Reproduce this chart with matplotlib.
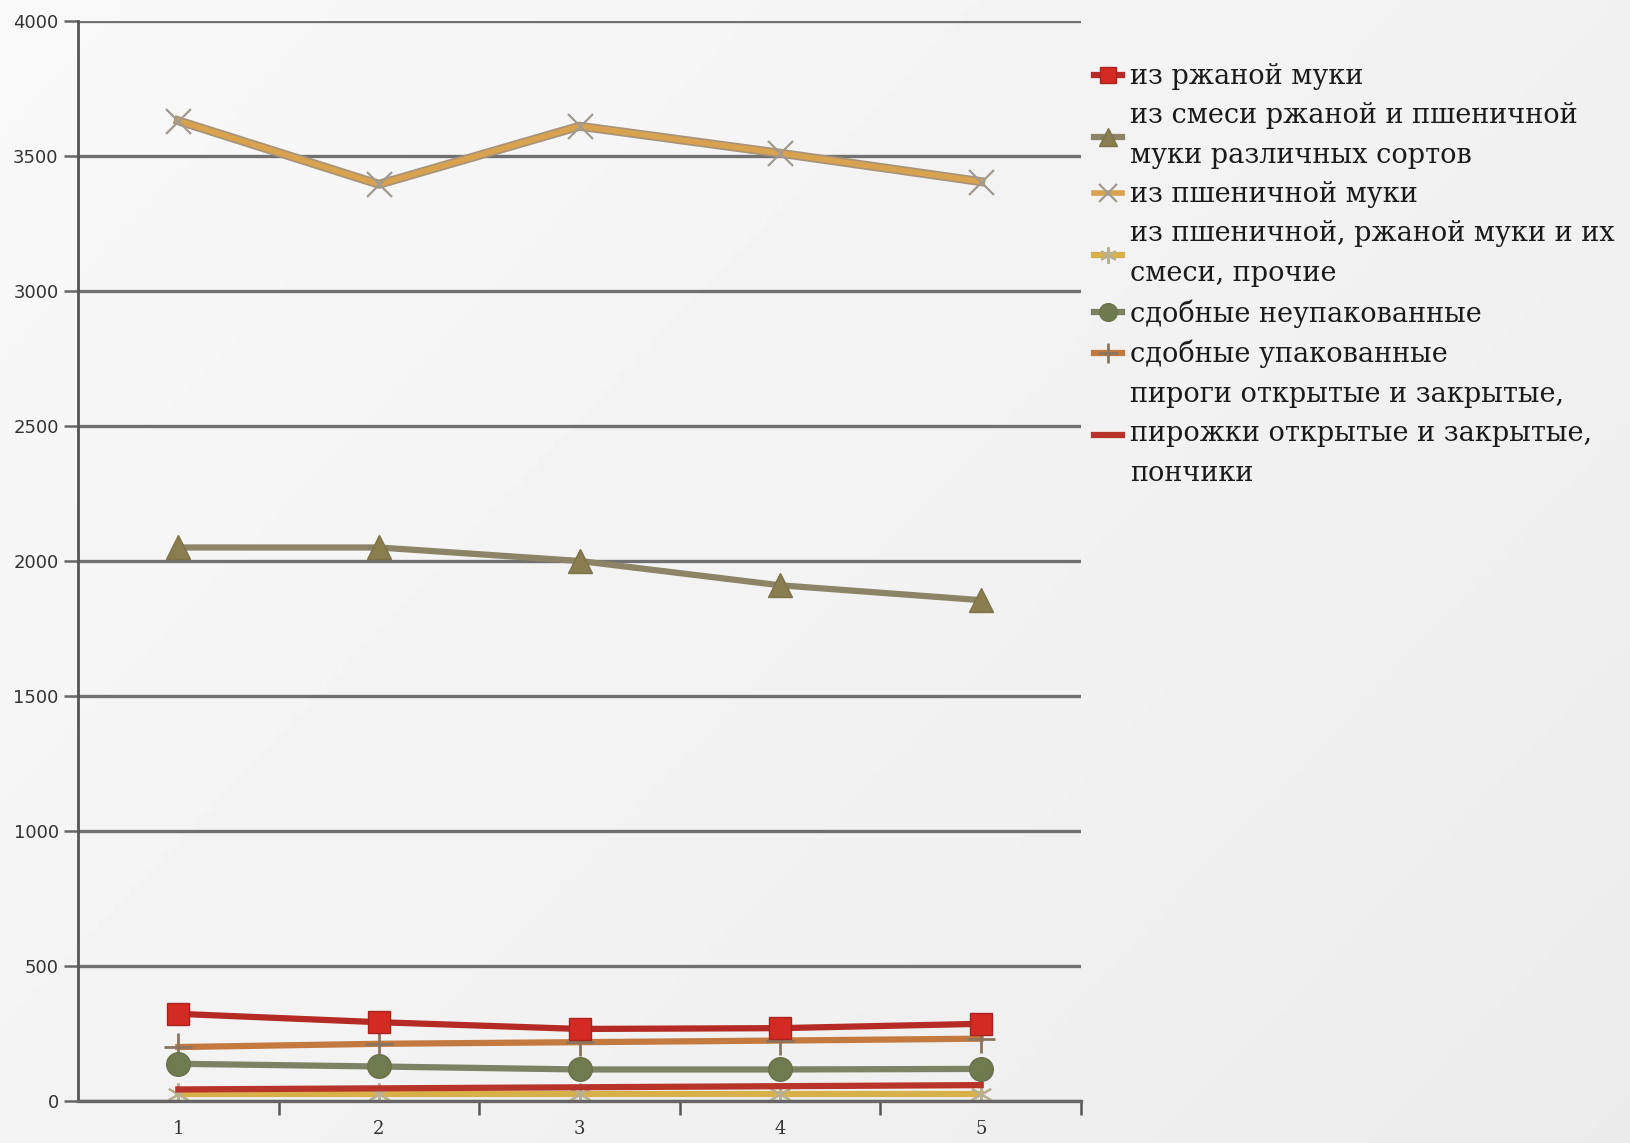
import matplotlib.pyplot as plt
import numpy as np

# data
years = [1, 2, 3, 4, 5]
rye = [323, 292, 267, 270, 286]
rye_wheat_mix = [2050, 2050, 2000, 1910, 1855]
wheat = [3630, 3395, 3610, 3510, 3405]
mixed_other = [25, 25, 25, 25, 25]
rich_unpacked = [138, 128, 117, 117, 119]
rich_packed = [200, 212, 218, 224, 231]
pies = [43, 47, 51, 55, 59]

labels = [
    "из ржаной муки",
    "из смеси ржаной и пшеничной\nмуки различных сортов",
    "из пшеничной муки",
    "из пшеничной, ржаной муки и их\nсмеси, прочие",
    "сдобные неупакованные",
    "сдобные упакованные",
    "пироги открытые и закрытые,\nпирожки открытые и закрытые,\nпончики",
]

fig = plt.figure(figsize=(16.3, 11.43), dpi=100)

# light gradient background
bg = fig.add_axes([0, 0, 1, 1], zorder=-10)
gx = np.linspace(0, 1, 200)
gy = np.linspace(0, 1, 200)
grad = 0.975 - 0.05 * (0.6 * gx[None, :] + 0.4 * gy[:, None])
bg.imshow(grad, cmap='gray', vmin=0, vmax=1, aspect='auto', extent=[0, 1, 0, 1])
bg.axis('off')

ax = fig.add_axes([0.0479, 0.0367, 0.6153, 0.945])
ax.patch.set_alpha(0)

lw = 4.5
ax.plot(years, pies, color='#b8342a', lw=lw, zorder=3, label=labels[6])
ax.plot(years, mixed_other, color='#d8b04a', lw=lw, marker=(6, 2, 0), ms=16,
        mec='#b8b090', mew=1.5, zorder=2, label=labels[3])
ax.plot(years, rich_packed, color='#c47a3e', lw=lw, marker='+', ms=20,
        mec='#8a7560', mew=2, zorder=3, label=labels[5])
ax.plot(years, rich_unpacked, color='#7c8264', lw=lw, marker='o', ms=17,
        mfc='#6f7a4e', mec='#6a7048', zorder=4, label=labels[4])
ax.plot(years, rye, color='#b52a24', lw=lw, marker='s', ms=16,
        mfc='#d32a22', mec='#a82420', zorder=5, label=labels[0])
ax.plot(years, rye_wheat_mix, color='#8c8466', lw=lw, marker='^', ms=17,
        mfc='#8a7e50', mec='#7d7248', zorder=4, label=labels[1])
# grey body under the orange top line
ax.plot(years, wheat, color='#a8947a', lw=6.5, zorder=3.9)
ax.plot(years, wheat, color='#d9a24e', lw=4, marker='x', ms=18,
        mec='#a09a90', mew=1.6, zorder=4, label=labels[2])

ax.set_xlim(0.5, 5.5)
ax.set_ylim(0, 4000)
ax.set_xticks([1.5, 2.5, 3.5, 4.5, 5.5], minor=False)
ax.set_xticks(years, minor=True)
ax.set_xticklabels([])
ax.set_xticklabels([str(y) for y in years], minor=True)
ax.set_yticks(range(0, 4001, 500))
ax.tick_params(axis='x', which='major', length=10, width=1.8, color='#555555',
               direction='out')
ax.tick_params(axis='x', which='minor', length=0, pad=14, labelsize=13,
               labelcolor='#333333')
ax.tick_params(axis='y', length=10, width=1.8, color='#666666', labelsize=13,
               labelcolor='#333333', pad=4)
for t in ax.get_xticklabels(minor=True):
    t.set_family('DejaVu Serif')

ax.grid(axis='y', color='#707070', lw=2.4, zorder=0)
for s in ['top', 'right']:
    ax.spines[s].set_visible(False)
ax.spines['left'].set_color('#555555')
ax.spines['left'].set_linewidth(2)
ax.spines['bottom'].set_color('#666666')
ax.spines['bottom'].set_linewidth(2.4)

handles, labs = ax.get_legend_handles_labels()
hmap = dict(zip(labs, handles))
leg = fig.legend([hmap[l] for l in labels], labels, loc='upper left',
                 bbox_to_anchor=(0.6565, 0.966), frameon=False,
                 prop={'family': 'DejaVu Serif', 'size': 19.5},
                 handlelength=1.0, handletextpad=0.3, labelspacing=0.45,
                 markerscale=0.75)
for t in leg.get_texts():
    t.set_linespacing(1.6)
    t.set_color('#1a1a1a')

fig.savefig('out.png', dpi=100)
